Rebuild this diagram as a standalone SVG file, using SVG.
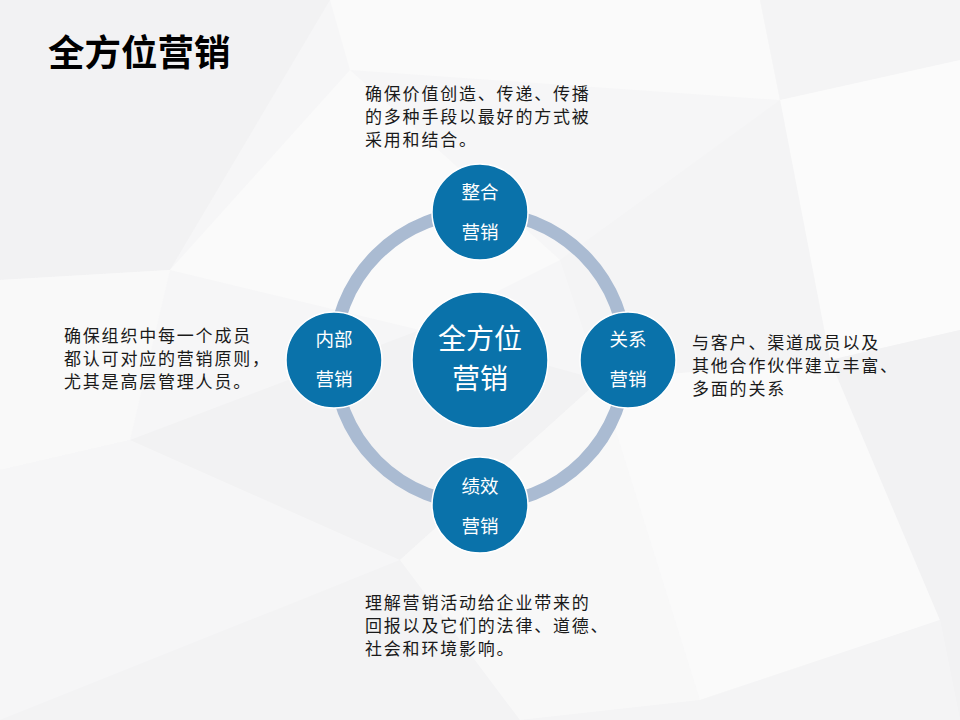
<svg xmlns="http://www.w3.org/2000/svg" width="960" height="720" viewBox="0 0 960 720">
<style>
.bg{stroke:none}
.node{fill:#0A72AA;stroke:#FFFFFF;stroke-width:1.5}
.nt{font-family:"Noto Sans CJK SC","Liberation Sans",sans-serif;fill:#FFFFFF;text-anchor:middle}
.desc{font-family:"Noto Sans CJK SC","Liberation Sans",sans-serif;font-size:17px;letter-spacing:1.8px;fill:#1A1A1A}
</style>
<rect width="960" height="720" fill="#F6F6F7"/>
<g id="background">
<polygon class="bg" points="0,0 330,0 170,270 0,280" fill="#F2F2F3"/>
<polygon class="bg" points="330,0 760,0 780,100 350,70" fill="#FAFAFA"/>
<polygon class="bg" points="760,0 960,0 960,60 780,100" fill="#F4F4F5"/>
<polygon class="bg" points="170,270 350,70 560,260 420,330" fill="#FAFAFA"/>
<polygon class="bg" points="0,280 170,270 130,440 0,470" fill="#F9F9F9"/>
<polygon class="bg" points="780,100 960,60 960,330 830,360" fill="#FBFBFB"/>
<polygon class="bg" points="560,260 780,100 830,360 600,380" fill="#F4F4F5"/>
<polygon class="bg" points="130,440 420,330 600,380 400,560" fill="#F2F2F3"/>
<polygon class="bg" points="0,470 130,440 250,620 0,720" fill="#F6F6F7"/>
<polygon class="bg" points="250,620 400,560 520,720 0,720" fill="#F3F3F4"/>
<polygon class="bg" points="400,560 600,380 700,700 520,720" fill="#F8F8F8"/>
<polygon class="bg" points="600,380 830,360 940,620 700,700" fill="#FAFAFA"/>
<polygon class="bg" points="830,360 960,330 960,720 940,620" fill="#F2F2F3"/>
<polygon class="bg" points="700,700 940,620 960,720 520,720" fill="#F4F4F5"/>
</g>
<g id="title">
<text x="48" y="66" font-family="Noto Sans CJK SC,Liberation Sans,sans-serif" font-size="36.5" font-weight="bold" fill="#000000">全方位营销</text>
</g>
<g id="connectors">
<circle cx="480" cy="358" r="146" fill="none" stroke="#AABBD2" stroke-width="13"/>
</g>
<g id="center">
<circle class="node" cx="480" cy="360" r="68"/>
<text class="nt" x="480" y="349" font-size="28">全方位</text>
<text class="nt" x="480" y="389" font-size="28">营销</text>
</g>
<g id="top">
<circle class="node" cx="480" cy="212" r="48"/>
<text class="nt" x="480" y="199" font-size="18.5">整合</text>
<text class="nt" x="480" y="239" font-size="18.5">营销</text>
</g>
<g id="left">
<circle class="node" cx="334" cy="360" r="48"/>
<text class="nt" x="334" y="346" font-size="18.5">内部</text>
<text class="nt" x="334" y="386" font-size="18.5">营销</text>
</g>
<g id="right">
<circle class="node" cx="628" cy="360" r="48"/>
<text class="nt" x="628" y="346" font-size="18.5">关系</text>
<text class="nt" x="628" y="386" font-size="18.5">营销</text>
</g>
<g id="bottom">
<circle class="node" cx="480" cy="505" r="48"/>
<text class="nt" x="480" y="493" font-size="18.5">绩效</text>
<text class="nt" x="480" y="533" font-size="18.5">营销</text>
</g>
<g id="desc-top">
<text class="desc" x="365" y="100">确保价值创造、传递、传播</text>
<text class="desc" x="365" y="123">的多种手段以最好的方式被</text>
<text class="desc" x="365" y="146">采用和结合。</text>
</g>
<g id="desc-left">
<text class="desc" x="64" y="342">确保组织中每一个成员</text>
<text class="desc" x="64" y="365">都认可对应的营销原则，</text>
<text class="desc" x="64" y="388">尤其是高层管理人员。</text>
</g>
<g id="desc-right">
<text class="desc" x="692" y="349">与客户、渠道成员以及</text>
<text class="desc" x="692" y="372">其他合作伙伴建立丰富、</text>
<text class="desc" x="692" y="395">多面的关系</text>
</g>
<g id="desc-bottom">
<text class="desc" x="365" y="609">理解营销活动给企业带来的</text>
<text class="desc" x="365" y="632">回报以及它们的法律、道德、</text>
<text class="desc" x="365" y="655">社会和环境影响。</text>
</g>
</svg>
